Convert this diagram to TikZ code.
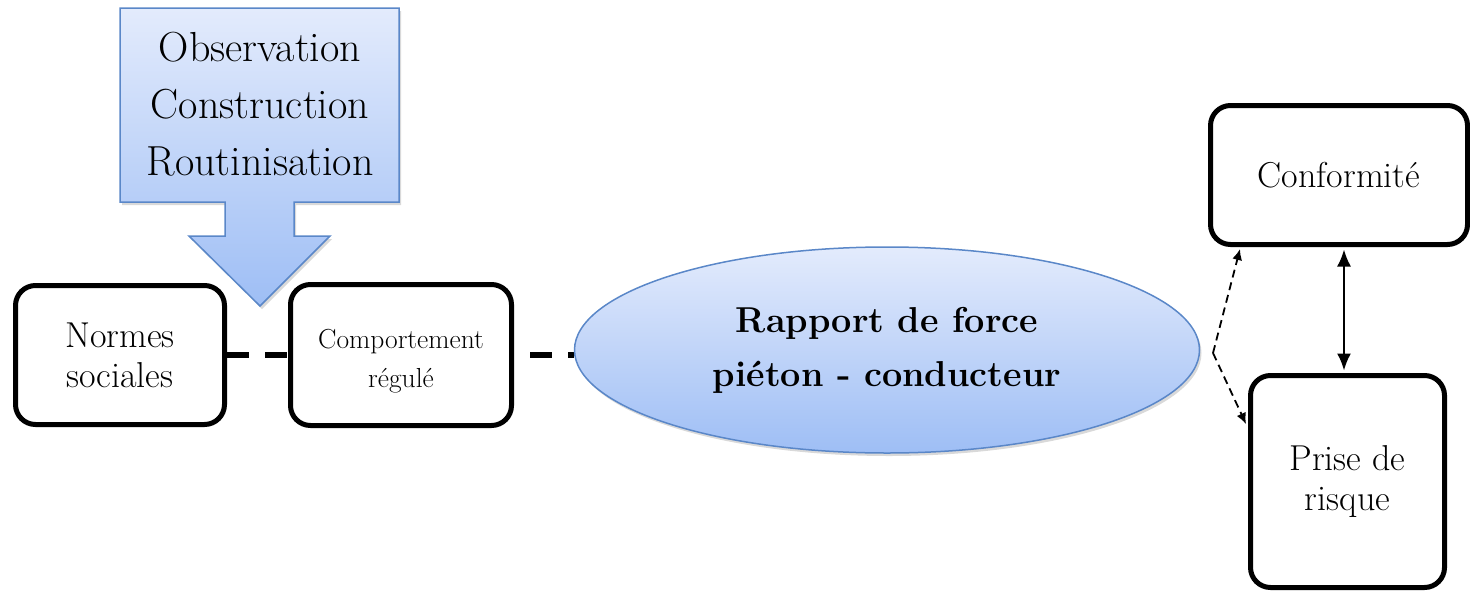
\documentclass[tikz,border=0pt]{standalone}
\usepackage{fontspec}
\usetikzlibrary{arrows.meta,shapes.geometric,shadows,calc}
\pgfdeclarelayer{background}
\pgfsetlayers{background,main}
\definecolor{lightblue}{RGB}{227,235,252}
\definecolor{darkblue}{RGB}{158,190,245}
\definecolor{borderblue}{RGB}{90,135,200}
\tikzset{
  box/.style={draw, line width=5pt, rounded corners=20pt, inner sep=0pt, align=center,
    font=\fontsize{36}{40}\selectfont},
  thickdash/.style={line width=5.5pt, dash pattern=on 22pt off 16pt},
  dasharrow/.style={-{Latex[length=11pt,width=10pt]}, line width=1.8pt, dash pattern=on 8pt off 5pt},
  dblarrow/.style={{Latex[length=17pt,width=14pt]}-{Latex[length=17pt,width=14pt]}, line width=2pt},
  blueshade/.style={top color=lightblue, bottom color=darkblue, draw=borderblue, line width=1.5pt,
    drop shadow={shadow xshift=2pt, shadow yshift=-3pt, opacity=0.3}},
}
\begin{document}
\begin{tikzpicture}[x=1pt,y=-1pt]
\useasboundingbox (0,0) rectangle (1470,592);
% callout arrow
\path[blueshade] (120,8) -- (399,8) -- (399,202) -- (294,202) -- (294,236) -- (330,236)
  -- (260,306) -- (189,236) -- (225,236) -- (225,202) -- (120,202) -- cycle;
\node[align=center, font=\fontsize{42}{57}\selectfont] (obs) at (260,104)
  {Observation\\Construction\\Routinisation};
% boxes
\node[box, minimum width=209pt, minimum height=139pt] (normes) at (120,355) {Normes\\sociales};
\node[box, minimum width=221pt, minimum height=141pt, font=\fontsize{27.5}{39}\selectfont] (comport) at (401,355) {\rule{0pt}{31pt}Comportement\\régulé};
\node[ellipse, blueshade, minimum width=625pt, minimum height=206pt, inner sep=0pt, align=center,
  font=\bfseries\fontsize{36}{54}\selectfont] (ell) at (887,350) {Rapport de force\\piéton - conducteur};
\node[box, minimum width=257pt, minimum height=139pt] (conf) at (1339,175) {Conformité};
\node[box, minimum width=194pt, minimum height=212pt] (prise) at (1347.5,481.5) {Prise de\\risque};
% connectors
\begin{pgfonlayer}{background}
\draw[thickdash] (normes.east) -- (comport.west);
\draw[thickdash, dash phase=22pt] (comport.east) -- (comport.east -| ell.west);
\end{pgfonlayer}
\coordinate (apex) at (1213,353);
\coordinate (vx) at (1344,0);
\draw[dasharrow] (apex) -- ([xshift=32pt,yshift=-2pt]conf.south west);
\draw[dasharrow] (apex) -- ([xshift=-2pt,yshift=-51pt]prise.north west);
\draw[dblarrow] ([yshift=-2.5pt]conf.south -| vx) -- ([yshift=2.5pt]prise.north -| vx);
\end{tikzpicture}
\end{document}
